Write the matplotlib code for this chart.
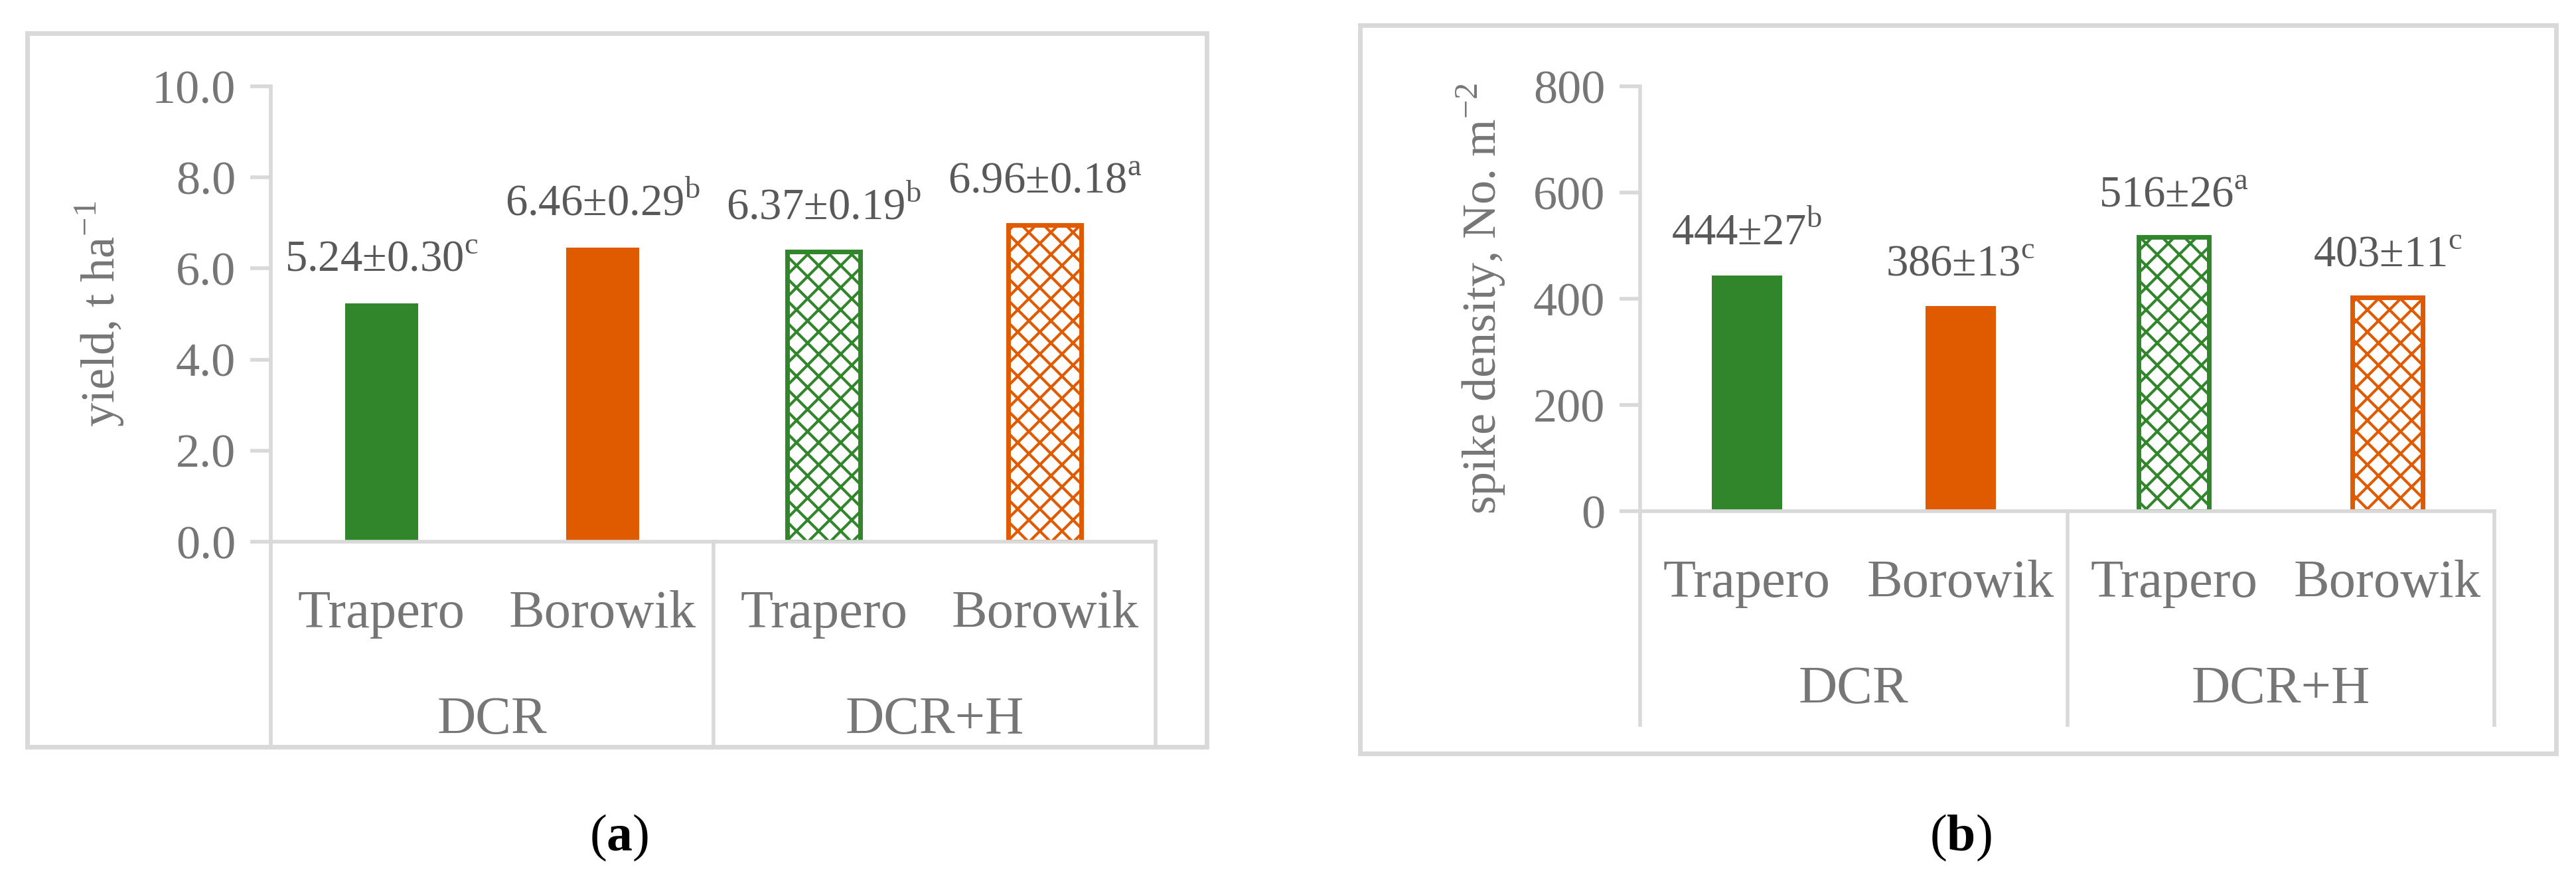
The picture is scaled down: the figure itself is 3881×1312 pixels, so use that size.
import matplotlib
matplotlib.use("Agg")
import matplotlib.pyplot as plt
from matplotlib.patches import Rectangle
from matplotlib.lines import Line2D

varieties = ["Trapero", "Borowik", "Trapero", "Borowik"]
groups = ["DCR", "DCR+H"]
yield_vals = [5.24, 6.46, 6.37, 6.96]
yield_labels = ["5.24±0.30$^{\\mathrm{c}}$", "6.46±0.29$^{\\mathrm{b}}$", "6.37±0.19$^{\\mathrm{b}}$", "6.96±0.18$^{\\mathrm{a}}$"]
spike_vals = [444, 386, 516, 403]
spike_labels = ["444±27$^{\\mathrm{b}}$", "386±13$^{\\mathrm{c}}$", "516±26$^{\\mathrm{a}}$", "403±11$^{\\mathrm{c}}$"]
yield_ticks = [0, 2, 4, 6, 8, 10]
spike_ticks = [0, 200, 400, 600, 800]

W, H = 3881, 1312
GREEN = "#31852b"; ORANGE = "#e05a00"; GRAY = "#767676"; LINE = "#d9d9d9"
colors = [GREEN, ORANGE, GREEN, ORANGE]
hatched = [False, False, True, True]
plt.rcParams["font.family"] = ["Liberation Serif", "DejaVu Serif"]
plt.rcParams["mathtext.fontset"] = "custom"
plt.rcParams["mathtext.rm"] = "Liberation Serif"
plt.rcParams["hatch.linewidth"] = 3

fig = plt.figure(figsize=(W/100, H/100), dpi=100)

def px(x0, y0, x1, y1):
    return [x0/W, 1 - y1/H, (x1-x0)/W, (y1-y0)/H]

def panel(border, ax_box, bottom, vals, labels, ticks, fmt, ylabel, cap, capx, var_y, grp_y):
    fig.patches.append(Rectangle((border[0]/W, 1-border[3]/H), (border[2]-border[0])/W,
                                 (border[3]-border[1])/H, transform=fig.transFigure,
                                 fill=False, edgecolor=LINE, linewidth=5))
    ax = fig.add_axes(px(*ax_box))
    x = range(4)
    for i in x:
        if hatched[i]:
            ax.bar(i, vals[i], width=0.33, facecolor="white", edgecolor=colors[i],
                   hatch="x", linewidth=5, zorder=2)
        else:
            ax.bar(i, vals[i], width=0.33, color=colors[i], zorder=2)
        ax.text(i, vals[i] + ticks[-1]*0.05, labels[i], ha="center", va="bottom",
                fontsize=48, color="#595959")
    ax.set_xlim(-0.5, 3.5)
    ax.set_ylim(0, ticks[-1])
    ax.set_yticks(ticks)
    ax.set_yticklabels([fmt(t) for t in ticks], fontsize=52, color=GRAY)
    ax.set_xticks([])
    for s in ["top", "right", "bottom"]:
        ax.spines[s].set_visible(False)
    ax.spines["left"].set_color(LINE); ax.spines["left"].set_linewidth(4)
    ax.tick_params(axis="y", length=22, width=4, color=LINE, pad=16)
    ax.set_ylabel(ylabel, fontsize=52, color=GRAY, labelpad=28)
    ax.axhline(0, color=LINE, linewidth=4, zorder=3, clip_on=False)
    ax_h = ax_box[3] - ax_box[1]
    depth = (bottom - ax_box[3]) / ax_h
    for xs in [-0.5, 1.5, 3.5]:
        ax.add_line(Line2D([xs, xs], [0, -depth], transform=ax.get_xaxis_transform(),
                           color=LINE, linewidth=4, clip_on=False))
    vy = -(var_y - ax_box[3]) / ax_h
    gy = -(grp_y - ax_box[3]) / ax_h
    for i in x:
        ax.text(i, vy, varieties[i], transform=ax.get_xaxis_transform(), ha="center",
                va="center", fontsize=58, color=GRAY)
    for g, xc in zip(groups, [0.5, 2.5]):
        ax.text(xc, gy, g, transform=ax.get_xaxis_transform(), ha="center",
                va="center", fontsize=58, color=GRAY)
    fig.text(capx/W, 1-1262/H, "(" + "$\\mathbf{" + cap + "}$" + ")", ha="center",
             va="center", fontsize=56, color="black")
    return ax

plt.rcParams["mathtext.bf"] = "Liberation Serif:bold"
panel((41, 50, 1818, 1125), (408, 130, 1741, 816), 1123, yield_vals, yield_labels,
      yield_ticks, lambda t: f"{t:.1f}", "yield, t ha$^{-1}$", "a", 933, 925, 1085)
panel((2049, 38, 3851, 1135), (2471, 130, 3758, 770), 1092, spike_vals, spike_labels,
      spike_ticks, lambda t: f"{t:d}", "spike density, No. m$^{-2}$", "b", 2954, 879, 1039)

fig.savefig("out.png", dpi=100)
